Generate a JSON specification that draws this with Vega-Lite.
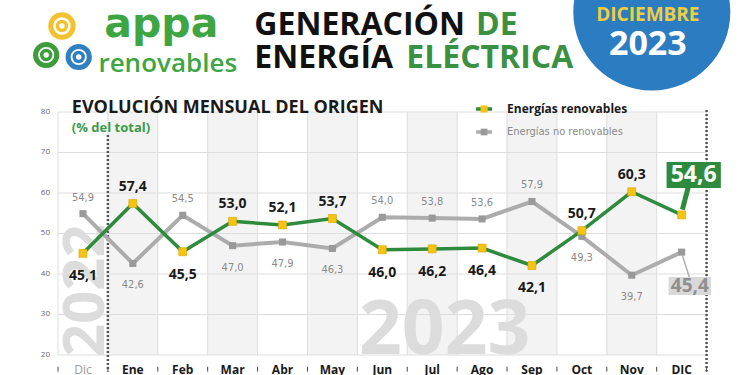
{
"$schema":"https://vega.github.io/schema/vega-lite/v6.json",
"width":697,"height":355,
"autosize":{"type":"none"},
"padding":{"left":53,"top":0,"right":0,"bottom":20},
"background":"#ffffff",
"config":{"view":{"stroke":null},"locale":{"number":{"decimal":",","thousands":".","grouping":[3],"currency":["","€"]}}},
"datasets":{
"gen":[
{"m":"Dic","i":0,"ren":45.1,"nre":54.9},
{"m":"Ene","i":1,"ren":57.4,"nre":42.6},
{"m":"Feb","i":2,"ren":45.5,"nre":54.5},
{"m":"Mar","i":3,"ren":53.0,"nre":47.0},
{"m":"Abr","i":4,"ren":52.1,"nre":47.9},
{"m":"May","i":5,"ren":53.7,"nre":46.3},
{"m":"Jun","i":6,"ren":46.0,"nre":54.0},
{"m":"Jul","i":7,"ren":46.2,"nre":53.8},
{"m":"Ago","i":8,"ren":46.4,"nre":53.6},
{"m":"Sep","i":9,"ren":42.1,"nre":57.9},
{"m":"Oct","i":10,"ren":50.7,"nre":49.3},
{"m":"Nov","i":11,"ren":60.3,"nre":39.7},
{"m":"DIC","i":12,"ren":54.6,"nre":45.4}],
"grid":[{"v":20},{"v":30},{"v":40},{"v":50},{"v":60},{"v":70},{"v":80}],
"bounds":[{"b":-0.5},{"b":0.5},{"b":1.5},{"b":2.5},{"b":3.5},{"b":4.5},{"b":5.5},{"b":6.5},{"b":7.5},{"b":8.5},{"b":9.5},{"b":10.5},{"b":11.5},{"b":12.5}]
},
"data":{"name":"gen"},
"layer":[
{"transform":[{"filter":"datum.i % 2 == 1"}],"mark":{"type":"bar","width":50.6,"color":"#f3f3f3"},"encoding":{"x":{"field":"i","type":"quantitative","axis":null},"y":{"datum":80,"type":"quantitative","axis":null},"y2":{"datum":20}}},
{"data":{"name":"grid"},"mark":{"type":"rule","color":"#dedede","strokeWidth":1},"encoding":{"x":{"datum":-0.5,"type":"quantitative","axis":null},"x2":{"datum":12.5},"y":{"field":"v","type":"quantitative","axis":null}}},
{"data":{"name":"grid"},"mark":{"type":"text","font":"Open Sans","fontSize":8,"color":"#666666","align":"right","baseline":"middle","dx":-8},"encoding":{"x":{"datum":-0.5,"type":"quantitative","axis":null},"y":{"field":"v","type":"quantitative","axis":null},"text":{"field":"v","type":"quantitative"}}},
{"data":{"name":"bounds"},"mark":{"type":"rule","color":"#dedede","strokeWidth":1},"encoding":{"x":{"field":"b","type":"quantitative","axis":null},"y":{"datum":80,"type":"quantitative","axis":null},"y2":{"datum":20}}},
{"data":{"name":"bounds"},"mark":{"type":"rule","color":"#444444","strokeWidth":1},"encoding":{"x":{"field":"b","type":"quantitative","axis":null},"y":{"datum":17.1,"type":"quantitative","axis":null},"y2":{"datum":15.9}}},
{"transform":[{"filter":"datum.i == 0"}],"mark":{"type":"text","font":"Open Sans","fontSize":12,"color":"#9a9a9a","align":"center","baseline":"top","dy":10},"encoding":{"x":{"field":"i","type":"quantitative","axis":null},"y":{"datum":20,"type":"quantitative","axis":null},"text":{"field":"m","type":"nominal"}}},
{"transform":[{"filter":"datum.i > 0"}],"mark":{"type":"text","font":"Open Sans","fontWeight":"bold","fontSize":12,"color":"#1a1a1a","align":"center","baseline":"top","dy":10},"encoding":{"x":{"field":"i","type":"quantitative","axis":null},"y":{"datum":20,"type":"quantitative","axis":null},"text":{"field":"m","type":"nominal"}}},
{"data":{"values":[{}]},"mark":{"type":"text","text":"2023","font":"Open Sans","fontWeight":"bold","fontSize":75,"color":"#dcdcdc","align":"center","baseline":"alphabetic"},"encoding":{"x":{"datum":7.25,"type":"quantitative","axis":null},"y":{"datum":20.3,"type":"quantitative","axis":null}}},
{"data":{"values":[{}]},"mark":{"type":"text","text":"2022","font":"Open Sans","fontWeight":"bold","fontSize":58,"color":"#dcdcdc","align":"left","baseline":"alphabetic","angle":270},"encoding":{"x":{"datum":0.43,"type":"quantitative","axis":null},"y":{"datum":19.5,"type":"quantitative","axis":null}}},
{"data":{"values":[{}]},"mark":{"type":"rule","color":"#555555","strokeWidth":2.5,"strokeDash":[2,2]},"encoding":{"x":{"datum":0.5,"type":"quantitative","axis":null},"y":{"datum":74.3,"type":"quantitative","axis":null},"y2":{"datum":15.9}}},
{"data":{"values":[{}]},"mark":{"type":"rule","color":"#555555","strokeWidth":2.5,"strokeDash":[2,2]},"encoding":{"x":{"datum":12.5,"type":"quantitative","axis":null},"y":{"datum":80.5,"type":"quantitative","axis":null},"y2":{"datum":15.9}}},
{"mark":{"type":"line","color":"#acacac","strokeWidth":4},"encoding":{"x":{"field":"i","type":"quantitative","axis":null},"y":{"field":"nre","type":"quantitative","axis":null}}},
{"mark":{"type":"point","shape":"square","filled":true,"color":"#999999","size":50,"opacity":1},"encoding":{"x":{"field":"i","type":"quantitative","axis":null},"y":{"field":"nre","type":"quantitative","axis":null}}},
{"mark":{"type":"line","color":"#2e8b3d","strokeWidth":3.5},"encoding":{
"x":{"field":"i","type":"quantitative","scale":{"domain":[-0.5,13.27],"nice":false,"zero":false},"axis":null},
"y":{"field":"ren","type":"quantitative","scale":{"domain":[20,107.65],"nice":false,"zero":false},"axis":null}}},
{"mark":{"type":"point","shape":"square","filled":true,"color":"#f5c313","stroke":"#dba400","strokeWidth":0.6,"size":64,"opacity":1},"encoding":{"x":{"field":"i","type":"quantitative","axis":null},"y":{"field":"ren","type":"quantitative","axis":null}}},
{"transform":[{"filter":"datum.i < 12 && datum.ren > datum.nre"}],"mark":{"type":"text","font":"Open Sans","fontWeight":"bold","fontSize":14,"color":"#1a1a1a","baseline":"middle","dy":-17},"encoding":{"x":{"field":"i","type":"quantitative","axis":null},"y":{"field":"ren","type":"quantitative","axis":null},"text":{"field":"ren","type":"quantitative","format":".1f"}}},
{"transform":[{"filter":"datum.i < 12 && datum.ren < datum.nre"}],"mark":{"type":"text","font":"Open Sans","fontWeight":"bold","fontSize":14,"color":"#1a1a1a","baseline":"middle","dy":23},"encoding":{"x":{"field":"i","type":"quantitative","axis":null},"y":{"field":"ren","type":"quantitative","axis":null},"text":{"field":"ren","type":"quantitative","format":".1f"}}},
{"transform":[{"filter":"datum.i < 12 && datum.nre > datum.ren"}],"mark":{"type":"text","font":"'DejaVu Sans Condensed', Roboto, sans-serif","fontSize":11,"color":"#8a8a8a","baseline":"middle","dy":-16},"encoding":{"x":{"field":"i","type":"quantitative","axis":null},"y":{"field":"nre","type":"quantitative","axis":null},"text":{"field":"nre","type":"quantitative","format":".1f"}}},
{"transform":[{"filter":"datum.i < 12 && datum.nre < datum.ren"}],"mark":{"type":"text","font":"'DejaVu Sans Condensed', Roboto, sans-serif","fontSize":11,"color":"#8a8a8a","baseline":"middle","dy":22},"encoding":{"x":{"field":"i","type":"quantitative","axis":null},"y":{"field":"nre","type":"quantitative","axis":null},"text":{"field":"nre","type":"quantitative","format":".1f"}}},
{"data":{"values":[{}]},"mark":{"type":"rule","color":"#2e8b3d","strokeWidth":5},"encoding":{"x":{"datum":12.133,"type":"quantitative","axis":null},"x2":{"datum":12.015},"y":{"datum":61.5,"type":"quantitative","axis":null},"y2":{"datum":55.9}}},
{"data":{"values":[{}]},"mark":{"type":"rect","color":"#2e8b3d"},"encoding":{"x":{"datum":11.698,"type":"quantitative","axis":null},"x2":{"datum":12.786},"y":{"datum":67.65,"type":"quantitative","axis":null},"y2":{"datum":61.23}}},
{"transform":[{"filter":"datum.i == 12"}],"mark":{"type":"text","font":"Open Sans","fontWeight":"bold","fontSize":23,"color":"#ffffff","baseline":"middle","align":"center"},"encoding":{"x":{"datum":12.242,"type":"quantitative","axis":null},"y":{"datum":64.44,"type":"quantitative","axis":null},"text":{"field":"ren","type":"quantitative","format":".1f"}}},
{"data":{"values":[{}]},"mark":{"type":"rule","color":"#b0b0b0","strokeWidth":1.5},"encoding":{"x":{"datum":12.015,"type":"quantitative","axis":null},"x2":{"datum":12.153},"y":{"datum":44.6,"type":"quantitative","axis":null},"y2":{"datum":39.26}}},
{"data":{"values":[{}]},"mark":{"type":"rect","color":"#d9d9d9"},"encoding":{"x":{"datum":11.738,"type":"quantitative","axis":null},"x2":{"datum":12.588},"y":{"datum":39.26,"type":"quantitative","axis":null},"y2":{"datum":34.81}}},
{"transform":[{"filter":"datum.i == 12"}],"mark":{"type":"text","font":"Open Sans","fontWeight":"bold","fontSize":19,"color":"#8f8f8f","baseline":"middle","align":"center"},"encoding":{"x":{"datum":12.163,"type":"quantitative","axis":null},"y":{"datum":37.03,"type":"quantitative","axis":null},"text":{"field":"nre","type":"quantitative","format":".1f"}}},
{"data":{"values":[{}]},"mark":{"type":"rule","color":"#2e8b3d","strokeWidth":3.5},"encoding":{"x":{"datum":7.88,"type":"quantitative","axis":null},"x2":{"datum":8.2},"y":{"datum":80.74,"type":"quantitative","axis":null}}},
{"data":{"values":[{}]},"mark":{"type":"point","shape":"square","filled":true,"color":"#f5c313","size":50,"opacity":1},"encoding":{"x":{"datum":8.04,"type":"quantitative","axis":null},"y":{"datum":80.74,"type":"quantitative","axis":null}}},
{"data":{"values":[{}]},"mark":{"type":"text","text":"Energías renovables","font":"Open Sans","fontWeight":"bold","fontSize":12,"color":"#1a1a1a","align":"left","baseline":"middle"},"encoding":{"x":{"datum":8.5,"type":"quantitative","axis":null},"y":{"datum":80.74,"type":"quantitative","axis":null}}},
{"data":{"values":[{}]},"mark":{"type":"rule","color":"#acacac","strokeWidth":3.5},"encoding":{"x":{"datum":7.88,"type":"quantitative","axis":null},"x2":{"datum":8.2},"y":{"datum":75.06,"type":"quantitative","axis":null}}},
{"data":{"values":[{}]},"mark":{"type":"point","shape":"square","filled":true,"color":"#999999","size":45,"opacity":1},"encoding":{"x":{"datum":8.04,"type":"quantitative","axis":null},"y":{"datum":75.06,"type":"quantitative","axis":null}}},
{"data":{"values":[{}]},"mark":{"type":"text","text":"Energías no renovables","font":"'DejaVu Sans Condensed', Roboto, sans-serif","fontSize":11,"color":"#8a8a8a","align":"left","baseline":"middle"},"encoding":{"x":{"datum":8.5,"type":"quantitative","axis":null},"y":{"datum":75.06,"type":"quantitative","axis":null}}},
{"data":{"values":[{}]},"mark":{"type":"text","text":"EVOLUCIÓN MENSUAL DEL ORIGEN","font":"Open Sans","fontWeight":"bold","fontSize":18,"color":"#1a1a1a","align":"left","baseline":"alphabetic"},"encoding":{"x":{"datum":-0.223,"type":"quantitative","axis":null},"y":{"datum":79.87,"type":"quantitative","axis":null}}},
{"data":{"values":[{}]},"mark":{"type":"text","text":"(% del total)","font":"Open Sans","fontWeight":"bold","fontSize":13,"color":"#3d9a48","align":"left","baseline":"alphabetic"},"encoding":{"x":{"datum":-0.223,"type":"quantitative","axis":null},"y":{"datum":75.06,"type":"quantitative","axis":null}}},
{"data":{"values":[{}]},"mark":{"type":"point","shape":"circle","filled":false,"color":"#f2c12e","strokeWidth":5,"size":500,"opacity":1},"encoding":{"x":{"datum":-0.421,"type":"quantitative","axis":null},"y":{"datum":101.23,"type":"quantitative","axis":null}}},
{"data":{"values":[{}]},"mark":{"type":"point","shape":"circle","filled":false,"color":"#f2c12e","strokeWidth":3.5,"size":80,"opacity":1},"encoding":{"x":{"datum":-0.421,"type":"quantitative","axis":null},"y":{"datum":101.23,"type":"quantitative","axis":null}}},
{"data":{"values":[{}]},"mark":{"type":"point","shape":"circle","filled":false,"color":"#3c9d3a","strokeWidth":5,"size":450,"opacity":1},"encoding":{"x":{"datum":-0.737,"type":"quantitative","axis":null},"y":{"datum":94.07,"type":"quantitative","axis":null}}},
{"data":{"values":[{}]},"mark":{"type":"point","shape":"circle","filled":false,"color":"#3c9d3a","strokeWidth":3.5,"size":80,"opacity":1},"encoding":{"x":{"datum":-0.737,"type":"quantitative","axis":null},"y":{"datum":94.07,"type":"quantitative","axis":null}}},
{"data":{"values":[{}]},"mark":{"type":"point","shape":"circle","filled":false,"color":"#2f7fc1","strokeWidth":5,"size":450,"opacity":1},"encoding":{"x":{"datum":-0.085,"type":"quantitative","axis":null},"y":{"datum":93.58,"type":"quantitative","axis":null}}},
{"data":{"values":[{}]},"mark":{"type":"point","shape":"circle","filled":false,"color":"#2f7fc1","strokeWidth":3.5,"size":80,"opacity":1},"encoding":{"x":{"datum":-0.085,"type":"quantitative","axis":null},"y":{"datum":93.58,"type":"quantitative","axis":null}}},
{"data":{"values":[{}]},"mark":{"type":"text","text":"appa","font":"DejaVu Sans","fontWeight":"bold","fontSize":41,"color":"#3ea543","align":"left","baseline":"alphabetic"},"encoding":{"x":{"datum":0.429,"type":"quantitative","axis":null},"y":{"datum":98.51,"type":"quantitative","axis":null}}},
{"data":{"values":[{}]},"mark":{"type":"text","text":"renovables","font":"Open Sans","fontWeight":600,"fontSize":26,"color":"#3ea543","align":"left","baseline":"alphabetic"},"encoding":{"x":{"datum":0.31,"type":"quantitative","axis":null},"y":{"datum":89.87,"type":"quantitative","axis":null}}},
{"data":{"values":[{}]},"mark":{"type":"text","text":"GENERACIÓN","font":"Open Sans","fontWeight":"bold","fontSize":32,"color":"#111111","align":"left","baseline":"alphabetic"},"encoding":{"x":{"datum":3.435,"type":"quantitative","axis":null},"y":{"datum":98.99,"type":"quantitative","axis":null}}},
{"data":{"values":[{}]},"mark":{"type":"text","text":"DE","font":"Open Sans","fontWeight":"bold","fontSize":32,"color":"#3a9141","align":"left","baseline":"alphabetic"},"encoding":{"x":{"datum":7.88,"type":"quantitative","axis":null},"y":{"datum":98.99,"type":"quantitative","axis":null}}},
{"data":{"values":[{}]},"mark":{"type":"text","text":"ENERGÍA","font":"Open Sans","fontWeight":"bold","fontSize":32,"color":"#111111","align":"left","baseline":"alphabetic"},"encoding":{"x":{"datum":3.435,"type":"quantitative","axis":null},"y":{"datum":90.86,"type":"quantitative","axis":null}}},
{"data":{"values":[{}]},"mark":{"type":"text","text":"ELÉCTRICA","font":"Open Sans","fontWeight":"bold","fontSize":32,"color":"#3a9141","align":"left","baseline":"alphabetic"},"encoding":{"x":{"datum":6.48,"type":"quantitative","axis":null},"y":{"datum":90.86,"type":"quantitative","axis":null}}},
{"data":{"values":[{}]},"mark":{"type":"point","shape":"circle","filled":true,"color":"#2b7cc0","size":24650,"opacity":1},"encoding":{"x":{"datum":11.402,"type":"quantitative","axis":null},"y":{"datum":104.69,"type":"quantitative","axis":null}}},
{"data":{"values":[{}]},"mark":{"type":"text","text":"DICIEMBRE","font":"Open Sans","fontWeight":"bold","fontSize":19,"color":"#f0cf3c","align":"center","baseline":"alphabetic"},"encoding":{"x":{"datum":11.323,"type":"quantitative","axis":null},"y":{"datum":102.46,"type":"quantitative","axis":null}}},
{"data":{"values":[{}]},"mark":{"type":"text","text":"2023","font":"Open Sans","fontWeight":"bold","fontSize":34,"color":"#ffffff","align":"center","baseline":"alphabetic"},"encoding":{"x":{"datum":11.323,"type":"quantitative","axis":null},"y":{"datum":94.07,"type":"quantitative","axis":null}}}
]
}
